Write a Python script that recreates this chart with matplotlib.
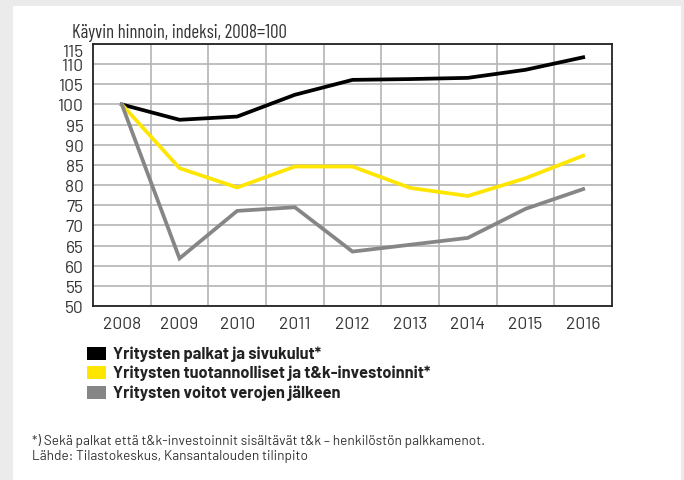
import matplotlib
matplotlib.use("Agg")
import matplotlib.pyplot as plt
from matplotlib.patches import Rectangle
from matplotlib import font_manager

years = ["2008", "2009", "2010", "2011", "2012", "2013", "2014", "2015", "2016"]
palkat = [100, 96.2, 97.0, 102.4, 106.1, 106.3, 106.6, 108.6, 111.7]
investoinnit = [100, 84.2, 79.4, 84.6, 84.6, 79.3, 77.3, 81.7, 87.3]
voitot = [100, 61.8, 73.6, 74.5, 63.5, 65.2, 66.9, 74.1, 79.0]
series_names = ["Yritysten palkat ja sivukulut*",
                "Yritysten tuotannolliset ja t&k-investoinnit*",
                "Yritysten voitot verojen jälkeen"]
colors = ["#000000", "#ffe600", "#868686"]
yticks = list(range(50, 120, 5))

names = {f.name for f in font_manager.fontManager.ttflist}
prefs = ["D-DIN", "DIN Alternate", "Barlow", "Bahnschrift", "Barlow Semi Condensed",
         "Roboto Condensed", "PT Sans Narrow", "Liberation Sans Narrow", "Roboto"]
fam = next((p for p in prefs if p in names), "DejaVu Sans")
cprefs = ["Barlow Condensed", "Barlow Semi Condensed", "Roboto Condensed",
          "PT Sans Narrow", fam]
cfam = next((p for p in cprefs if p in names), fam)
plt.rcParams["font.family"] = [fam, "DejaVu Sans"]

W, H = 684, 481
fig = plt.figure(figsize=(W / 100, H / 100), dpi=100)
fig.patch.set_facecolor("#ebebeb")
fig.patches.append(Rectangle((13 / W, 0), (681 - 13) / W, (H - 7) / H,
                             transform=fig.transFigure, facecolor="white",
                             edgecolor="none", zorder=0))

ax = fig.add_axes([93 / W, 1 - 307 / H, (612 - 93) / W, (307 - 45) / H])
ax.set_zorder(2)
ax.set_facecolor("white")
x = list(range(len(years)))
for vals, c in zip([palkat, investoinnit, voitot], colors):
    ax.plot(x, vals, color=c, lw=2.7, solid_joinstyle="miter", zorder=3)

ax.set_xlim(-0.5, len(years) - 0.5)
ax.set_ylim(50, 115)
ax.set_yticks(yticks)
ax.set_yticklabels([str(v) for v in yticks])
ax.set_xticks(x)
ax.set_xticklabels(years)
ax.set_xticks([i + 0.5 for i in range(len(years) - 1)], minor=True)
ax.grid(True, which="major", axis="y", color="#b4b4b4", lw=1.2)
ax.grid(True, which="minor", axis="x", color="#b4b4b4", lw=1.2)
ax.tick_params(which="both", length=0, labelsize=12.5, colors="#333333")
ax.tick_params(axis="x", pad=7.5)
ax.tick_params(axis="y", pad=6.5)
ylabels = ax.get_yticklabels()
ylabels[-1].set_verticalalignment("top")
ylabels[-1].set_y(115)
for s in ax.spines.values():
    s.set_color("#222222")
    s.set_linewidth(1.3)
ax.set_axisbelow(True)

fig.text(72 / W, 1 - 38 / H, "Käyvin hinnoin, indeksi, 2008=100", fontsize=13.5,
         family=[cfam, "DejaVu Sans"], color="#333333", va="baseline", ha="left")

leg_y = [354, 373, 393]
for name, c, yy in zip(series_names, colors, leg_y):
    fig.patches.append(Rectangle((87 / W, 1 - (yy + 6.5) / H), 19 / W, 13 / H,
                                 transform=fig.transFigure, facecolor=c,
                                 edgecolor="none", zorder=1))
    fig.text(113 / W, 1 - yy / H, name, fontsize=11.8, fontweight="bold",
             color="#222222", va="center", ha="left")

fig.text(32 / W, 1 - 441 / H,
         "*) Sekä palkat että t&k-investoinnit sisältävät t&k – henkilöstön palkkamenot.",
         fontsize=9.8, color="#333333", va="center", ha="left")
fig.text(32 / W, 1 - 457 / H, "Lähde: Tilastokeskus, Kansantalouden tilinpito",
         fontsize=9.8, color="#333333", va="center", ha="left")

fig.savefig("out.png", dpi=100, facecolor=fig.get_facecolor())
